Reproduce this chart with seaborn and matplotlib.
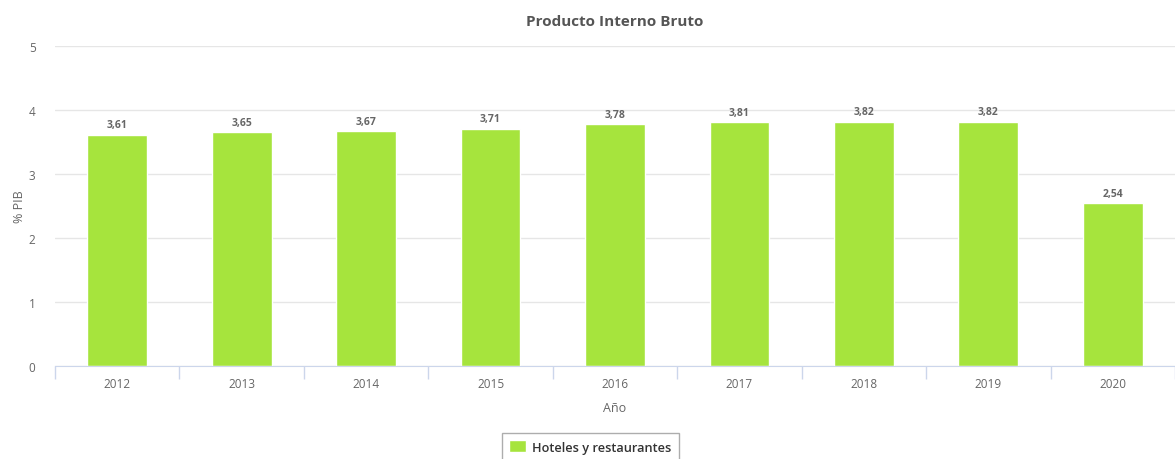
import matplotlib.pyplot as plt
import seaborn as sns
import pandas as pd

# datos
anios = ['2012', '2013', '2014', '2015', '2016', '2017', '2018', '2019', '2020']
pib = [3.61, 3.65, 3.67, 3.71, 3.78, 3.81, 3.82, 3.82, 2.54]
etiquetas = ['3,61', '3,65', '3,67', '3,71', '3,78', '3,81', '3,82', '3,82', '2,54']
serie = 'Hoteles y restaurantes'

df = pd.DataFrame({'Año': anios, 'PIB': pib, 'Serie': serie})

sns.set_style('white')
plt.rcParams['font.family'] = ['Open Sans', 'DejaVu Sans']

fig = plt.figure(figsize=(11.75, 4.6), dpi=100)
ax = fig.add_axes([55 / 1175, 93 / 460, 1120 / 1175, 320 / 460])

sns.barplot(data=df, x='Año', y='PIB', hue='Serie', palette=['#a6e43d'],
            width=0.48, ax=ax, saturation=1)

for i, (v, t) in enumerate(zip(pib, etiquetas)):
    ax.text(i, v + 0.07, t, ha='center', va='bottom', fontsize=7.5,
            fontweight='bold', color='#666666')

ax.set_ylim(0, 5)
ax.set_xlim(-0.5, len(anios) - 0.5)
ax.set_yticks(range(6))
ax.grid(axis='y', color='#e6e6e6', linewidth=1)
ax.set_axisbelow(True)
for s in ['top', 'right', 'left']:
    ax.spines[s].set_visible(False)
ax.spines['bottom'].set_color('#ccd6eb')

# marcas entre categorias
ax.set_xticks([i - 0.5 for i in range(len(anios) + 1)], minor=True)
ax.tick_params(axis='x', which='minor', bottom=True, length=9, color='#ccd6eb',
               width=1, direction='out')
ax.tick_params(axis='x', which='major', length=0, labelsize=8.5, labelcolor='#666666', pad=8)
ax.tick_params(axis='y', length=0, labelsize=8.5, labelcolor='#666666', pad=14)

ax.set_xlabel('Año', fontsize=9, color='#666666', labelpad=8)
ax.set_ylabel('% PIB', fontsize=9, color='#666666', labelpad=2)
ax.set_title('Producto Interno Bruto', fontsize=11, fontweight='bold', color='#555555', pad=15)

leg = ax.legend(loc='upper center', bbox_to_anchor=(0.5 - 0.022, -0.19), frameon=True,
                fancybox=False, handlelength=1.3, handleheight=1.1, fontsize=9.2,
                borderpad=0.55, handletextpad=0.5)
leg.get_frame().set_edgecolor('#999999')
leg.get_frame().set_linewidth(1)
for t in leg.get_texts():
    t.set_color('#333333')
    t.set_fontweight('semibold')

fig.savefig('out.png', dpi=100)
